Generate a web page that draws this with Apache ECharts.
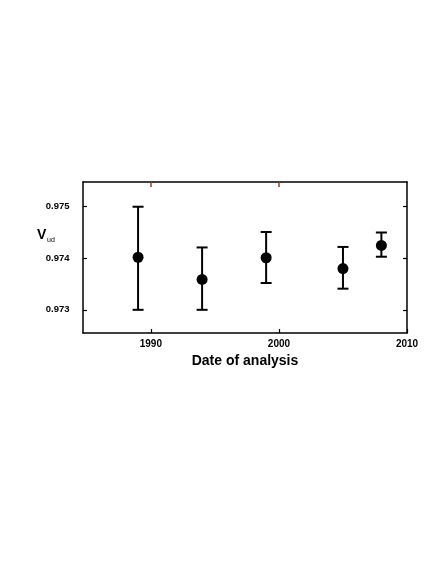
<!DOCTYPE html>
<html><head><meta charset="utf-8">
<script src="https://cdn.jsdelivr.net/npm/echarts@6/dist/echarts.min.js"></script>
<style>html,body{margin:0;padding:0;background:#fff}#c{width:436px;height:564px}</style>
</head><body><div id="c"></div>
<script>
const years = [1989, 1994, 1999, 2005, 2008];
const vud = [0.97402, 0.97359, 0.97401, 0.97380, 0.97425];
const errLow = [0.97300, 0.97300, 0.97352, 0.97341, 0.97403];
const errHigh = [0.97500, 0.97421, 0.97451, 0.97422, 0.97450];
const xTicks = [1990, 2000, 2010];
const yTicks = [0.973, 0.974, 0.975];

const chart = echarts.init(document.getElementById('c'), null, {renderer: 'canvas'});
const font = 'Liberation Sans, Arial, sans-serif';
const errData = years.map((y, i) => [y, errLow[i], errHigh[i]]);
const ptData = years.map((y, i) => [y, vud[i]]);

chart.setOption({
  animation: false,
  backgroundColor: '#fff',
  grid: {left: 83, right: 29, top: 182, bottom: 231},
  xAxis: [{
    type: 'value', min: 1984.7, max: 2010, position: 'bottom',
    axisLine: {show: true, lineStyle: {color: '#000', width: 1.5}},
    axisTick: {show: true, inside: true, length: 4, customValues: xTicks, lineStyle: {color: '#000', width: 1.2}},
    axisLabel: {customValues: xTicks, color: '#000', fontFamily: font, fontWeight: 'bold', fontSize: 10, margin: 6,
      formatter: v => String(v)},
    splitLine: {show: false},
    name: 'Date of analysis', nameLocation: 'middle', nameGap: 21,
    nameTextStyle: {color: '#000', fontFamily: font, fontWeight: 'bold', fontSize: 14}
  }, {
    type: 'value', min: 1984.7, max: 2010, position: 'top',
    axisLine: {show: true, lineStyle: {color: '#000', width: 1.5}},
    axisTick: {show: true, inside: true, length: 5, customValues: [1990, 2000], lineStyle: {color: '#a0401a', width: 1.5}},
    axisLabel: {show: false},
    splitLine: {show: false}
  }],
  yAxis: [{
    type: 'value', min: 0.97255, max: 0.97548, position: 'left',
    axisLine: {show: true, lineStyle: {color: '#000', width: 1.5}},
    axisTick: {show: true, inside: true, length: 4, customValues: yTicks, lineStyle: {color: '#000', width: 1.2}},
    axisLabel: {customValues: yTicks, color: '#000', fontFamily: font, fontWeight: 'bold', fontSize: 9.5, margin: 13.5,
      formatter: v => v.toFixed(3)},
    splitLine: {show: false}
  }, {
    type: 'value', min: 0.97255, max: 0.97548, position: 'right',
    axisLine: {show: true, lineStyle: {color: '#000', width: 1.5}},
    axisTick: {show: true, inside: true, length: 4, customValues: yTicks, lineStyle: {color: '#000', width: 1.2}},
    axisLabel: {show: false},
    splitLine: {show: false}
  }],
  graphic: [{
    type: 'text', left: 37, top: 228,
    style: {text: 'V', font: 'bold 14px ' + font, fill: '#000'}
  }, {
    type: 'text', left: 47, top: 237,
    style: {text: 'ud', font: '7px ' + font, fill: '#000'}
  }],
  series: [{
    type: 'custom', xAxisIndex: 0, yAxisIndex: 0,
    data: errData,
    renderItem: function (params, api) {
      const x = api.value(0);
      const lo = api.coord([x, api.value(1)]);
      const hi = api.coord([x, api.value(2)]);
      const hw = 5.5;
      const st = {stroke: '#000', lineWidth: 2};
      return {type: 'group', children: [
        {type: 'line', shape: {x1: lo[0], y1: lo[1], x2: hi[0], y2: hi[1]}, style: st},
        {type: 'line', shape: {x1: lo[0] - hw, y1: lo[1], x2: lo[0] + hw, y2: lo[1]}, style: st},
        {type: 'line', shape: {x1: hi[0] - hw, y1: hi[1], x2: hi[0] + hw, y2: hi[1]}, style: st}
      ]};
    },
    z: 2
  }, {
    type: 'scatter', xAxisIndex: 0, yAxisIndex: 0,
    data: ptData, symbol: 'circle', symbolSize: 11,
    itemStyle: {color: '#000', opacity: 1}, z: 3
  }]
});
</script></body></html>
